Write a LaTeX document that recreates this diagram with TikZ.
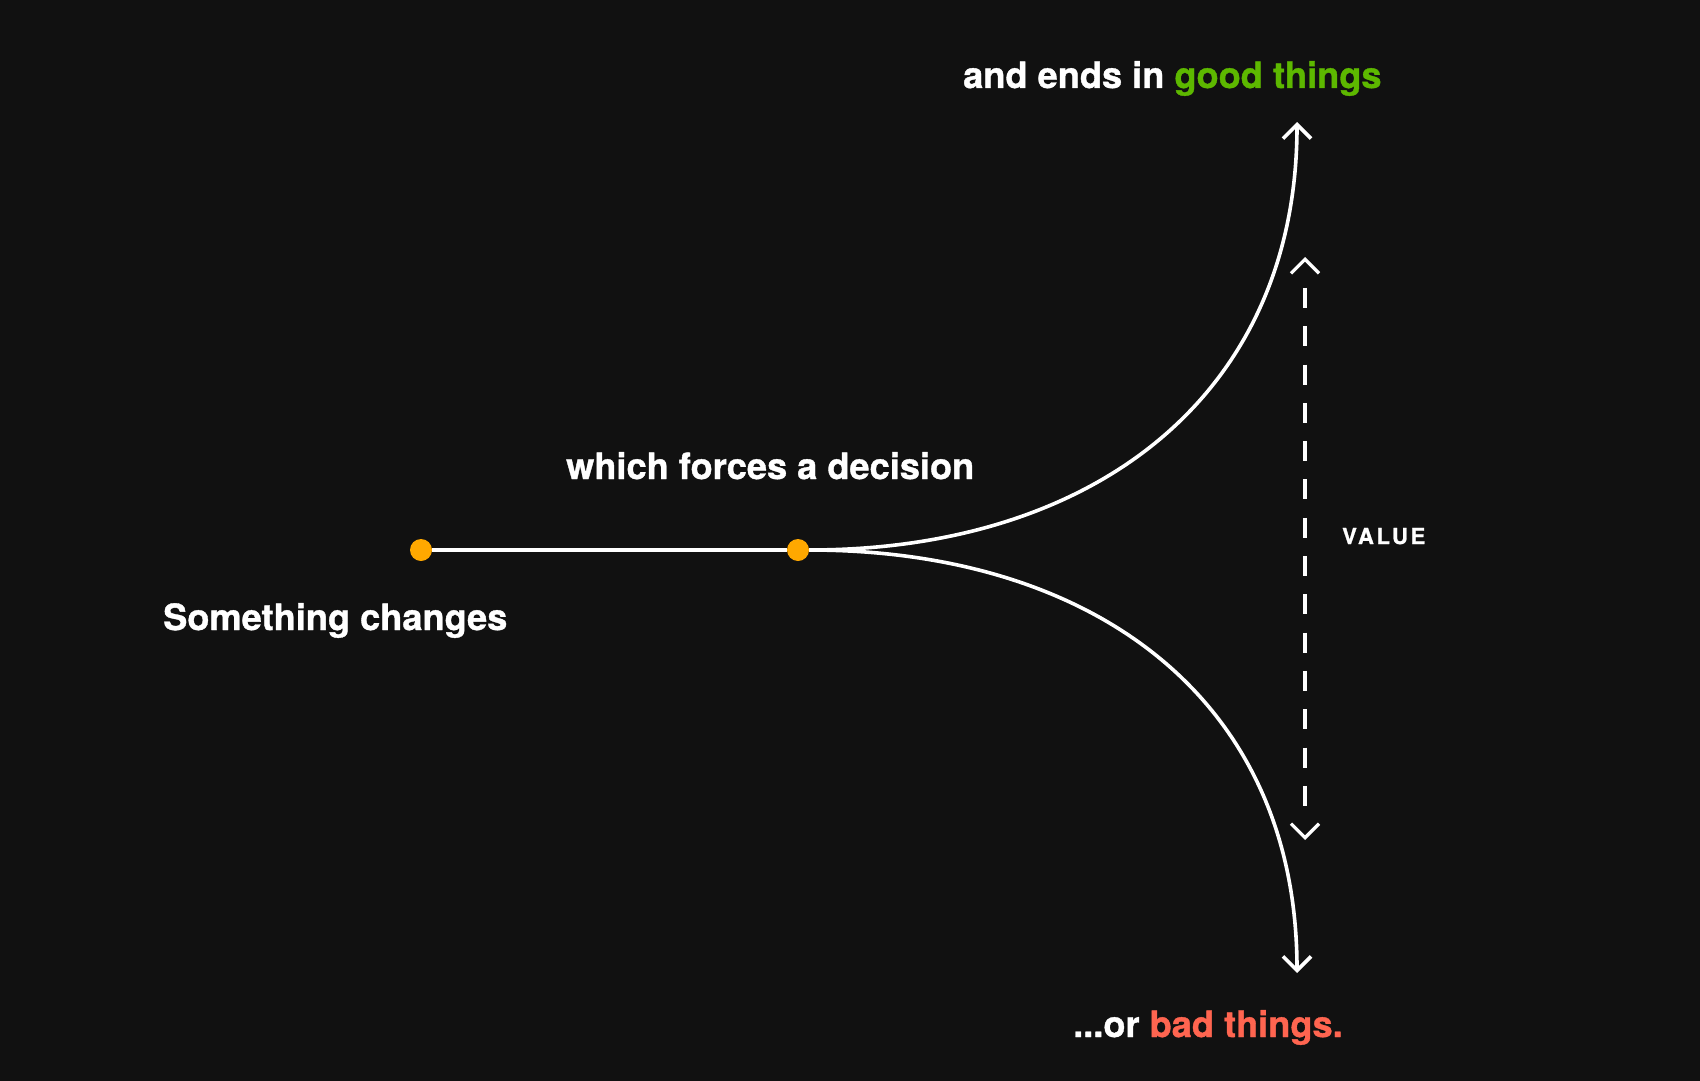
\documentclass[tikz,border=0pt]{standalone}
\usepackage{fontspec}
\setmainfont[BoldFeatures={FakeBold=1}]{TeX Gyre Heros}
\newfontfamily\valuefont[LetterSpace=12, BoldFeatures={FakeBold=1}]{TeX Gyre Heros}
\usetikzlibrary{arrows.meta}

\definecolor{bgdark}{HTML}{111111}
\definecolor{dotorange}{HTML}{FFA800}
\definecolor{goodgreen}{HTML}{5DB800}
\definecolor{badred}{HTML}{FF6550}

\begin{document}
\begin{tikzpicture}[x=1pt, y=-1pt, font=\bfseries\fontsize{36.2}{40}\selectfont,
  lbl/.style={anchor=base west, inner sep=0pt, text=white},
  evdot/.style={circle, fill=dotorange, minimum size=22pt, inner sep=0pt},
  barb/.tip={Straight Barb[length=14pt, width=28pt]},
  branch/.style={white, line width=3.6pt, -barb},
  valarrow/.style={white, line width=3.3pt, barb-barb,
    dash pattern=on 0pt off 27pt on 20pt off 18.3pt on 20pt off 18.3pt on 20pt off 18.3pt
      on 20pt off 18.3pt on 20pt off 18.3pt on 20pt off 18.3pt on 20pt off 18.3pt
      on 20pt off 18.3pt on 20pt off 18.3pt on 20pt off 18.3pt on 20pt off 18.3pt
      on 20pt off 18.3pt on 20pt off 18.3pt on 20pt off 40pt}]
  \fill[bgdark] (0,0) rectangle (1700,1081); % Background

  % Event dots
  \node[evdot] (change) at (421,550) {};
  \node[evdot] (decide) at (798,550) {};

  % Labels
  \node[lbl] (changelbl) at (163,630) {Something changes};
  \node[lbl] (decidelbl) at (566,479) {which forces a decision};
  \node[lbl] (goodlbl) at (963,88) {and ends in \textcolor{goodgreen}{good things}};
  \node[lbl] (badlbl) at (1073,1037) {...or \textcolor{badred}{bad things.}};
  \node[lbl, font=\valuefont\bfseries\fontsize{22}{26}\selectfont] (valuelbl) at (1342,544) {VALUE};

  % Ends of the outcome arrows
  \coordinate (goodend) at (1297,122);
  \coordinate (badend) at (1297,973);
  \coordinate (valtop) at (1305,257);
  \coordinate (valbot) at (1305,840);

  \draw[white, line width=3.8pt] (change) -- (decide); % Timeline
  \draw[branch] (decide.east) .. controls +(289,0) and +(0,270) .. (goodend); % Good branch
  \draw[branch] (decide.east) .. controls +(289,0) and +(0,-270) .. (badend); % Bad branch
  \draw[valarrow] (valtop) -- (valbot); % Value span
\end{tikzpicture}
\end{document}
